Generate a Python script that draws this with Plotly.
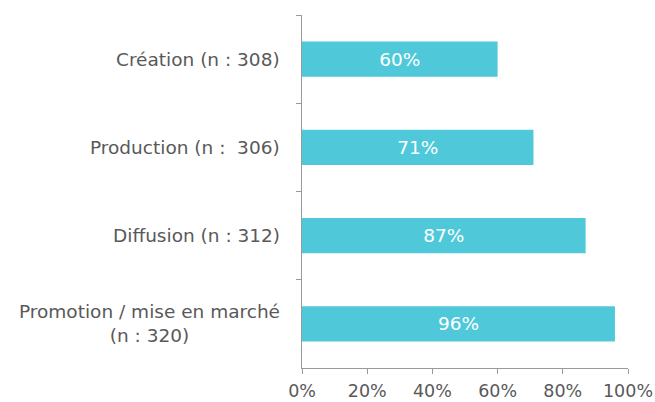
import plotly.graph_objects as go

categories = ["Création (n : 308)", "Production (n :\u00a0 306)", "Diffusion (n : 312)",
              "Promotion / mise en marché<br>(n : 320)"]
keys = ["Création", "Production", "Diffusion", "Promotion"]
values = [60, 71, 87, 96]
x_ticks = [0, 20, 40, 60, 80, 100]
x_tick_labels = ["0%", "20%", "40%", "60%", "80%", "100%"]

BAR = "#4FC9DA"
GREY = "#595959"
AXIS = "#9a9a9a"
FONT = "DejaVu Sans"

fig = go.Figure(go.Bar(
    x=values, y=keys, orientation="h",
    marker=dict(color=BAR, line=dict(width=0)),
    text=[f"{v}%" for v in values], textposition="inside", insidetextanchor="middle",
    textfont=dict(color="white", size=18.5, family=FONT),
    width=0.4, hoverinfo="skip",
))

for k, lab in zip(keys, categories):
    fig.add_annotation(x=0, xref="paper", y=k, yref="y", text=lab, showarrow=False,
                       xanchor="right", xshift=-20, align="center",
                       font=dict(size=18.5, color=GREY, family=FONT))

fig.update_layout(
    width=655, height=402, margin=dict(l=302, r=27, t=15, b=34),
    paper_bgcolor="white", plot_bgcolor="white", showlegend=False,
)
fig.update_xaxes(range=[0, 100], tickvals=x_ticks, ticktext=x_tick_labels,
                 showgrid=False, zeroline=False, showline=True, linecolor=AXIS, linewidth=1,
                 ticks="outside", ticklen=5, tickcolor=AXIS, automargin=False,
                 ticklabelstandoff=2,
                 tickfont=dict(size=17.5, color=GREY, family=FONT))
fig.update_yaxes(autorange="reversed", showticklabels=False, showgrid=False, zeroline=False,
                 showline=True, linecolor=AXIS, linewidth=1, automargin=False,
                 ticks="outside", ticklen=5, tickcolor=AXIS, tickson="boundaries")

fig.write_html("out.html")
